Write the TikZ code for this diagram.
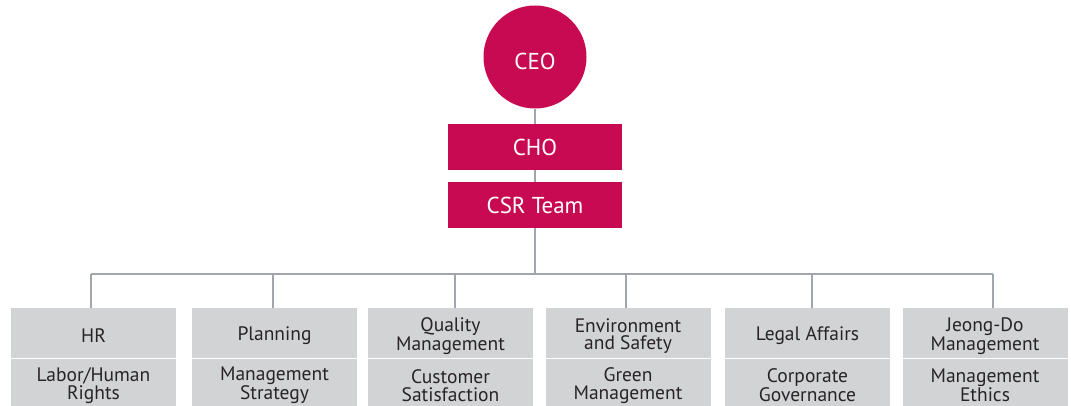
\documentclass[tikz,border=0pt]{standalone}
\usepackage{fontspec}
\setmainfont{PT Sans}
\definecolor{crimson}{RGB}{200,10,82}
\definecolor{boxgray}{RGB}{209,211,212}
\definecolor{linegray}{RGB}{160,166,172}
\definecolor{txtgray}{RGB}{40,36,38}
\begin{document}
\begin{tikzpicture}[x=1pt,y=-1pt,
  exec/.style={fill=crimson, text=white, inner sep=0pt, font=\fontsize{23}{23}\selectfont},
  execbox/.style={exec, minimum width=174pt, minimum height=46pt},
  unit/.style={fill=boxgray, inner sep=0pt, minimum width=165pt},
  head/.style={unit, minimum height=50pt},
  duty/.style={unit, minimum height=47pt},
  dtext/.style={text=txtgray, inner sep=0pt, align=center, yshift=-3pt,
    font=\fontsize{19.5}{17.5}\selectfont},
  link/.style={draw=linegray, line width=1.2pt}]
\useasboundingbox (0,0) rectangle (1071,406);

% executive chain
\node[exec, circle, minimum size=103pt,
  label={[text=white, font=\fontsize{23}{23}\selectfont, yshift=-4pt]center:CEO}] (ceo) at (535,57) {};
\node[execbox] (cho) at (535,147) {CHO};
\node[execbox] (csr) at (535,205) {CSR Team};

% departments: name on top, responsibility below
\node[head, label={[dtext]center:HR}] (h1) at (93.5,333) {};
\node[duty, label={[dtext]center:{Labor/Human\\Rights}}] (r1) at (93.5,382.5) {};
\node[head, label={[dtext]center:Planning}] (h2) at (274.5,333) {};
\node[duty, label={[dtext]center:{Management\\Strategy}}] (r2) at (274.5,382.5) {};
\node[head, label={[dtext]center:{Quality\\Management}}] (h3) at (450.5,333) {};
\node[duty, label={[dtext]center:{Customer\\Satisfaction}}] (r3) at (450.5,382.5) {};
\node[head, label={[dtext]center:{Environment\\and Safety}}] (h4) at (628,333) {};
\node[duty, label={[dtext]center:{Green\\Management}}] (r4) at (628,382.5) {};
\node[head, label={[dtext]center:Legal Affairs}] (h5) at (807.5,333) {};
\node[duty, label={[dtext]center:{Corporate\\Governance}}] (r5) at (807.5,382.5) {};
\node[head, label={[dtext]center:{Jeong-Do\\Management}}] (h6) at (985,333) {};
\node[duty, label={[dtext]center:{Management\\Ethics}}] (r6) at (985,382.5) {};

% connectors
\coordinate (bus) at (535,274);
\coordinate (d1) at (91,274);
\coordinate (d2) at (273,274);
\coordinate (d3) at (455,274);
\coordinate (d4) at (626,274);
\coordinate (d5) at (812,274);
\coordinate (d6) at (993,274);
\draw[link] (ceo.south) -- (cho.north);
\draw[link] (cho.south) -- (csr.north);
\draw[link] (csr.south) -- (bus);
\draw[link] (d1) -- (d6);
\foreach \i in {1,...,6} {
  \draw[link] (d\i) -- (d\i |- h\i.north);
}
\end{tikzpicture}
\end{document}
